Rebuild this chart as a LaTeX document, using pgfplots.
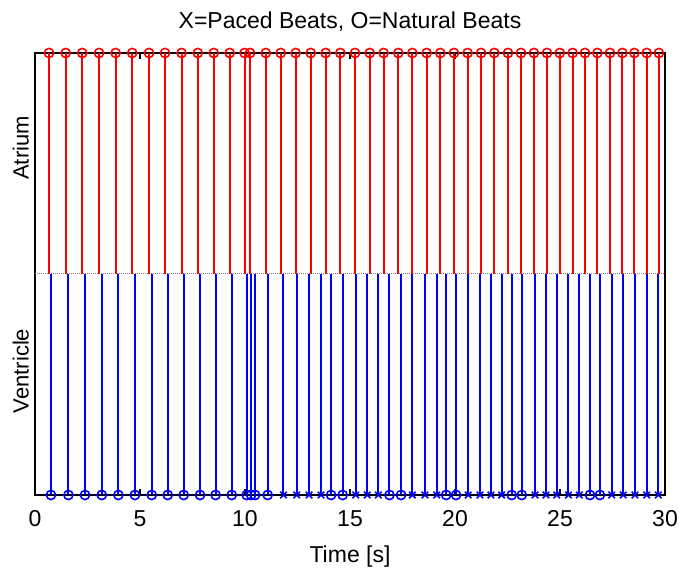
\documentclass[border=0pt]{standalone}
\usepackage{fontspec}
\setmainfont{Liberation Sans}
\usepackage{pgfplots}
\pgfplotsset{compat=1.18}
\begin{document}
\begin{tikzpicture}
\useasboundingbox (-35pt,-74pt) rectangle (644pt,495pt);
\begin{axis}[
  at={(0pt,0pt)}, anchor=south west,
  scale only axis, width=630pt, height=442pt,
  xmin=0, xmax=30, ymin=-1, ymax=1,
  xtick={0,5,...,30},
  ytick=\empty,
  xtick pos=both,
  tick align=inside,
  major tick length=6pt,
  xtick style={line width=1.8pt, black},
  xticklabel style={font=\fontsize{23}{27}\selectfont, yshift=-12pt},
  /pgf/number format/assume math mode=true,
  axis line style={line width=2.4pt, black},
  title={X=Paced Beats, O=Natural Beats},
  title style={font=\fontsize{23}{27}\selectfont, yshift=12pt},
  xlabel={Time [s]},
  xlabel style={font=\fontsize{23}{27}\selectfont, yshift=-12pt},
  clip marker paths=false,
]
\addplot[gray, densely dotted, line width=1pt] coordinates {(0,0) (30,0)};
\addplot[ycomb, red, line width=2pt, mark=o, mark size=4.6pt, mark options={line width=1.6pt}] coordinates {
(0.667,1)(1.46,1)(2.25,1)(3.05,1)(3.84,1)(4.63,1)(5.43,1)(6.19,1)(6.98,1)(7.75,1)(8.51,1)(9.27,1)(9.98,1)(10.24,1)(10.99,1)(11.70,1)(12.41,1)(13.13,1)(13.84,1)(14.54,1)(15.24,1)(15.94,1)(16.60,1)(17.30,1)(17.97,1)(18.65,1)(19.30,1)(19.95,1)(20.60,1)(21.24,1)(21.87,1)(22.52,1)(23.14,1)(23.76,1)(24.38,1)(24.99,1)(25.60,1)(26.19,1)(26.78,1)(27.38,1)(27.97,1)(28.54,1)(29.13,1)(29.71,1)
};
\addplot[ycomb, blue, line width=2pt, mark=o, mark size=4.6pt, mark options={line width=1.6pt}] coordinates {
(0.76,-1)(1.59,-1)(2.38,-1)(3.18,-1)(3.97,-1)(4.76,-1)(5.56,-1)(6.32,-1)(7.08,-1)(7.86,-1)(8.60,-1)(9.37,-1)(10.08,-1)(10.29,-1)(10.48,-1)(11.08,-1)(14.10,-1)(14.65,-1)(16.88,-1)(17.43,-1)(19.58,-1)(20.05,-1)(22.70,-1)(23.18,-1)(26.43,-1)(26.90,-1)
};
\addplot[ycomb, blue, line width=2pt, mark=x, mark size=4.6pt, mark options={line width=1.6pt}] coordinates {
(11.83,-1)(12.46,-1)(13.05,-1)(13.62,-1)(15.27,-1)(15.82,-1)(16.35,-1)(17.97,-1)(18.57,-1)(19.13,-1)(20.63,-1)(21.19,-1)(21.71,-1)(22.22,-1)(23.81,-1)(24.33,-1)(24.84,-1)(25.40,-1)(25.92,-1)(27.46,-1)(28.01,-1)(28.57,-1)(29.13,-1)(29.68,-1)
};
\end{axis}
\node[rotate=90, anchor=south, inner sep=0pt, font=\fontsize{22}{26}\selectfont] at (-6pt,347pt) {Atrium};
\node[rotate=90, anchor=south, inner sep=0pt, font=\fontsize{22}{26}\selectfont] at (-6pt,124pt) {Ventricle};
\end{tikzpicture}
\end{document}
